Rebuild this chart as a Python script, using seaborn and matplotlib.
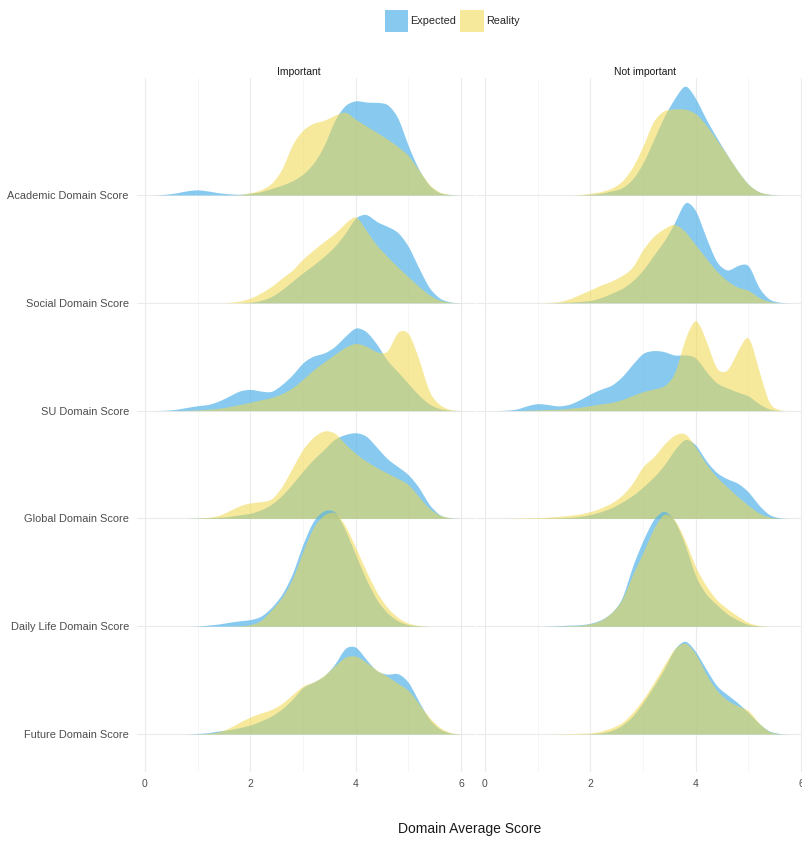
import numpy as np
import pandas as pd
import matplotlib
matplotlib.use("Agg")
import matplotlib.pyplot as plt
from matplotlib.patches import Patch
import seaborn as sns

# ---- data -------------------------------------------------------------
domains = ["Academic Domain Score", "Social Domain Score", "SU Domain Score",
           "Global Domain Score", "Daily Life Domain Score", "Future Domain Score"]
panels = ["Important", "Not important"]
groups = ["Expected", "Reality"]

# density heights (in ridge-row units) evaluated at score = 0.0, 0.2, ..., 6.0
score_grid = np.round(np.arange(0, 6.01, 0.2), 1)

academic_imp_expected = [0, 0, 0.006, 0.02, 0.04, 0.05, 0.037, 0.02, 0.01, 0.005, 0.015, 0.03, 0.06, 0.09, 0.13, 0.19, 0.29, 0.45, 0.70, 0.84, 0.88, 0.86, 0.86, 0.85, 0.73, 0.45, 0.23, 0.08, 0.015, 0.003, 0]
academic_imp_reality = [0, 0, 0, 0, 0, 0, 0, 0, 0, 0.003, 0.02, 0.045, 0.10, 0.23, 0.48, 0.61, 0.67, 0.69, 0.74, 0.78, 0.70, 0.64, 0.58, 0.52, 0.45, 0.37, 0.23, 0.09, 0.02, 0.003, 0]
social_imp_expected = [0, 0, 0, 0, 0, 0, 0, 0, 0, 0, 0.003, 0.02, 0.055, 0.12, 0.20, 0.28, 0.35, 0.43, 0.52, 0.64, 0.80, 0.83, 0.75, 0.71, 0.66, 0.53, 0.32, 0.13, 0.035, 0.005, 0]
social_imp_reality = [0, 0, 0, 0, 0, 0, 0, 0, 0.003, 0.015, 0.04, 0.09, 0.15, 0.23, 0.30, 0.41, 0.49, 0.57, 0.64, 0.74, 0.82, 0.67, 0.53, 0.43, 0.33, 0.24, 0.15, 0.07, 0.02, 0.003, 0]
su_imp_expected = [0, 0, 0.003, 0.012, 0.03, 0.046, 0.055, 0.087, 0.136, 0.186, 0.20, 0.18, 0.17, 0.24, 0.33, 0.45, 0.51, 0.53, 0.59, 0.69, 0.78, 0.74, 0.62, 0.46, 0.36, 0.25, 0.14, 0.056, 0.015, 0.003, 0]
su_imp_reality = [0, 0, 0, 0, 0.003, 0.006, 0.012, 0.02, 0.037, 0.056, 0.077, 0.10, 0.12, 0.155, 0.21, 0.29, 0.38, 0.45, 0.52, 0.59, 0.63, 0.60, 0.54, 0.53, 0.75, 0.74, 0.48, 0.155, 0.046, 0.006, 0]
global_imp_expected = [0, 0, 0, 0, 0, 0.003, 0.006, 0.01, 0.018, 0.034, 0.046, 0.077, 0.127, 0.21, 0.32, 0.44, 0.55, 0.64, 0.74, 0.78, 0.80, 0.77, 0.66, 0.55, 0.48, 0.41, 0.29, 0.12, 0.025, 0.003, 0]
global_imp_reality = [0, 0, 0, 0, 0, 0.003, 0.009, 0.025, 0.07, 0.12, 0.145, 0.155, 0.17, 0.29, 0.47, 0.65, 0.76, 0.82, 0.80, 0.69, 0.60, 0.53, 0.47, 0.42, 0.37, 0.32, 0.20, 0.087, 0.025, 0.003, 0]
daily_imp_expected = [0, 0, 0, 0, 0, 0.002, 0.01, 0.02, 0.037, 0.05, 0.06, 0.087, 0.17, 0.29, 0.48, 0.77, 0.99, 1.08, 1.08, 0.90, 0.66, 0.43, 0.24, 0.12, 0.046, 0.012, 0.003, 0, 0, 0, 0]
daily_imp_reality = [0, 0, 0, 0, 0, 0, 0, 0, 0, 0.003, 0.012, 0.046, 0.15, 0.26, 0.43, 0.70, 0.93, 1.04, 1.07, 0.94, 0.73, 0.51, 0.31, 0.17, 0.077, 0.025, 0.006, 0, 0, 0, 0]
future_imp_expected = [0, 0, 0, 0, 0, 0.005, 0.012, 0.028, 0.04, 0.06, 0.083, 0.12, 0.165, 0.23, 0.32, 0.44, 0.48, 0.535, 0.64, 0.81, 0.82, 0.69, 0.58, 0.55, 0.57, 0.49, 0.30, 0.13, 0.04, 0.006, 0]
future_imp_reality = [0, 0, 0, 0, 0, 0.002, 0.006, 0.018, 0.056, 0.11, 0.16, 0.195, 0.225, 0.28, 0.365, 0.45, 0.48, 0.54, 0.63, 0.72, 0.73, 0.665, 0.59, 0.535, 0.47, 0.41, 0.28, 0.15, 0.056, 0.01, 0]

academic_not_expected = [0, 0, 0, 0, 0, 0, 0, 0, 0, 0, 0.006, 0.015, 0.037, 0.06, 0.14, 0.29, 0.51, 0.73, 0.90, 1.04, 0.90, 0.70, 0.53, 0.37, 0.22, 0.093, 0.025, 0.005, 0, 0, 0]
academic_not_reality = [0, 0, 0, 0, 0, 0, 0, 0, 0, 0.003, 0.015, 0.03, 0.06, 0.12, 0.25, 0.45, 0.70, 0.79, 0.80, 0.80, 0.76, 0.65, 0.51, 0.37, 0.22, 0.093, 0.025, 0.005, 0, 0, 0]
social_not_expected = [0, 0, 0, 0, 0, 0, 0, 0.003, 0.006, 0.012, 0.02, 0.046, 0.087, 0.13, 0.20, 0.30, 0.44, 0.57, 0.74, 0.96, 0.87, 0.60, 0.365, 0.29, 0.35, 0.37, 0.13, 0.025, 0.003, 0, 0]
social_not_reality = [0, 0, 0, 0, 0, 0, 0.003, 0.009, 0.034, 0.077, 0.12, 0.165, 0.20, 0.25, 0.32, 0.50, 0.62, 0.69, 0.74, 0.665, 0.535, 0.41, 0.29, 0.20, 0.14, 0.12, 0.046, 0.009, 0, 0, 0]
su_not_expected = [0, 0, 0.003, 0.012, 0.046, 0.068, 0.056, 0.04, 0.056, 0.10, 0.155, 0.20, 0.23, 0.31, 0.43, 0.54, 0.56, 0.55, 0.51, 0.52, 0.50, 0.36, 0.25, 0.21, 0.17, 0.14, 0.062, 0.01, 0, 0, 0]
su_not_reality = [0, 0, 0, 0, 0.003, 0.006, 0.01, 0.012, 0.02, 0.03, 0.046, 0.062, 0.074, 0.10, 0.14, 0.176, 0.20, 0.22, 0.325, 0.68, 0.88, 0.65, 0.365, 0.355, 0.56, 0.73, 0.37, 0.046, 0.003, 0, 0]
global_not_expected = [0, 0, 0, 0, 0, 0, 0.002, 0.005, 0.008, 0.018, 0.034, 0.062, 0.096, 0.15, 0.21, 0.29, 0.38, 0.49, 0.64, 0.75, 0.69, 0.53, 0.42, 0.365, 0.33, 0.25, 0.12, 0.028, 0.003, 0, 0]
global_not_reality = [0, 0, 0, 0.003, 0.005, 0.006, 0.012, 0.018, 0.028, 0.04, 0.062, 0.096, 0.14, 0.21, 0.32, 0.49, 0.565, 0.69, 0.78, 0.80, 0.66, 0.50, 0.38, 0.29, 0.20, 0.12, 0.046, 0.009, 0, 0, 0]
daily_not_expected = [0, 0, 0, 0, 0, 0, 0.002, 0.005, 0.01, 0.012, 0.025, 0.056, 0.12, 0.24, 0.56, 0.80, 1.00, 1.085, 0.99, 0.76, 0.45, 0.29, 0.20, 0.11, 0.056, 0.012, 0.003, 0, 0, 0, 0]
daily_not_reality = [0, 0, 0, 0, 0, 0, 0, 0.002, 0.005, 0.008, 0.02, 0.05, 0.12, 0.23, 0.48, 0.68, 0.91, 1.06, 1.00, 0.80, 0.54, 0.37, 0.24, 0.16, 0.093, 0.03, 0.006, 0, 0, 0, 0]
future_not_expected = [0, 0, 0, 0, 0, 0, 0, 0, 0, 0, 0.003, 0.009, 0.03, 0.077, 0.16, 0.29, 0.44, 0.60, 0.80, 0.88, 0.77, 0.60, 0.44, 0.365, 0.29, 0.20, 0.096, 0.022, 0.003, 0, 0]
future_not_reality = [0, 0, 0, 0, 0, 0, 0, 0.002, 0.004, 0.006, 0.009, 0.025, 0.056, 0.10, 0.195, 0.32, 0.47, 0.64, 0.80, 0.86, 0.75, 0.55, 0.40, 0.31, 0.26, 0.225, 0.10, 0.015, 0.002, 0, 0]

curves = {
    ("Important", "Academic Domain Score"): (academic_imp_expected, academic_imp_reality),
    ("Important", "Social Domain Score"): (social_imp_expected, social_imp_reality),
    ("Important", "SU Domain Score"): (su_imp_expected, su_imp_reality),
    ("Important", "Global Domain Score"): (global_imp_expected, global_imp_reality),
    ("Important", "Daily Life Domain Score"): (daily_imp_expected, daily_imp_reality),
    ("Important", "Future Domain Score"): (future_imp_expected, future_imp_reality),
    ("Not important", "Academic Domain Score"): (academic_not_expected, academic_not_reality),
    ("Not important", "Social Domain Score"): (social_not_expected, social_not_reality),
    ("Not important", "SU Domain Score"): (su_not_expected, su_not_reality),
    ("Not important", "Global Domain Score"): (global_not_expected, global_not_reality),
    ("Not important", "Daily Life Domain Score"): (daily_not_expected, daily_not_reality),
    ("Not important", "Future Domain Score"): (future_not_expected, future_not_reality),
}

rows = []
for (panel, domain), pair in curves.items():
    for group, heights in zip(groups, pair):
        for s, h in zip(score_grid, heights):
            rows.append({"importance": panel, "domain": domain, "group": group,
                         "score": s, "height": h})
df = pd.DataFrame(rows)

# ---- style ------------------------------------------------------------
sns.set_theme(style="white")
plt.rcParams["font.family"] = ["Liberation Sans", "DejaVu Sans"]

fills = {"Expected": ("#56B4E9", 0.70), "Reality": ("#F0D74B", 0.55)}
levels = {d: len(domains) - i for i, d in enumerate(domains)}   # Academic on top
fine_x = np.linspace(-0.3, 6.4, 671)
_k = np.arange(-25, 26) * 0.01
kernel = np.exp(-0.5 * (_k / 0.055) ** 2)
kernel /= kernel.sum()


def smooth_curve(score, height):
    y = np.interp(fine_x, score, height, left=0, right=0)
    return np.convolve(y, kernel, mode="same")


def draw_ridges(data, **kws):
    ax = plt.gca()
    for i, domain in enumerate(domains):
        base = levels[domain]
        for j, group in enumerate(groups):
            sub = data[(data["domain"] == domain) & (data["group"] == group)].sort_values("score")
            y = smooth_curve(sub["score"].to_numpy(), sub["height"].to_numpy())
            col, a = fills[group]
            ax.fill_between(fine_x, base, base + y, where=y > 1e-4, color=col,
                            alpha=a, linewidth=0, zorder=3 + 2 * i + j)


g = sns.FacetGrid(df, col="importance", col_order=panels, sharex=True, sharey=True,
                  despine=False)
g.map_dataframe(draw_ridges)
fig = g.figure
fig.set_size_inches(8.03, 8.41)
fig.set_dpi(100)

W, H = 803.0, 841.0
ax_top, ax_bot = 78.0, 772.0
xlim = (-0.15, 6.28)
px_unit = 52.67
for ax, x0 in zip(g.axes.flat, [145.0, 485.0]):
    left = x0 + xlim[0] * px_unit
    width = (xlim[1] - xlim[0]) * px_unit
    ax.set_position([left / W, 1 - ax_bot / H, width / W, (ax_bot - ax_top) / H])
    ax.set_xlim(*xlim)
    ax.set_ylim(0.6475, 7.085)
    for sp in ax.spines.values():
        sp.set_visible(False)
    ax.set_xticks([0, 2, 4, 6])
    ax.set_xticks([1, 3, 5], minor=True)
    ax.set_yticks([levels[d] for d in domains])
    ax.grid(True, which="major", axis="both", color="#EBEBEB", linewidth=0.8, zorder=0)
    ax.grid(True, which="minor", axis="x", color="#F5F5F5", linewidth=0.6, zorder=0)
    ax.set_axisbelow(True)
    ax.tick_params(axis="both", which="both", length=0, labelsize=7.5, labelcolor="#4D4D4D")
    ax.tick_params(axis="x", pad=5)
    ax.set_xlabel("")
    ax.set_ylabel("")
    ax.set_title("")

ax_l, ax_r = g.axes.flat
ax_l.set_yticklabels(domains, fontsize=7.9)
ax_l.tick_params(axis="y", pad=6)
ax_r.tick_params(axis="y", labelleft=False)

# facet strip labels
for name, cx in zip(panels, [299.0, 645.0]):
    fig.text(cx / W, 1 - 72 / H, name, ha="center", va="center", fontsize=7.5,
             color="#1A1A1A")

fig.text(470 / W, 1 - 829 / H, "Domain Average Score", ha="center", va="center",
         fontsize=10, color="#1A1A1A")

handles = [Patch(facecolor=fills[gname][0], alpha=fills[gname][1], edgecolor="none", label=gname)
           for gname in groups]
fig.legend(handles=handles, loc="center", bbox_to_anchor=(452 / W, 1 - 21 / H), ncol=2,
           frameon=False, fontsize=7.8, handlelength=2.2, handleheight=2.8,
           handletextpad=0.2, columnspacing=0.3)

fig.savefig("out.png", dpi=100)
